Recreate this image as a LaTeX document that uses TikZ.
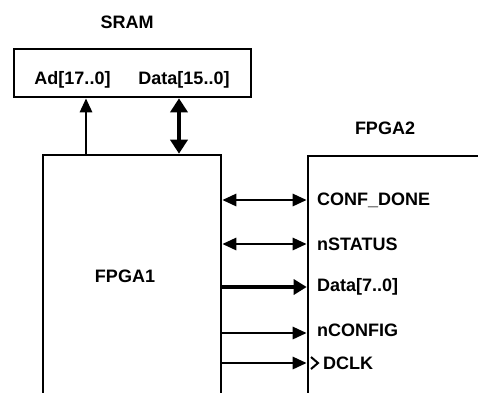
\documentclass[tikz,border=0pt]{standalone}
\usepackage{fontspec}
\setmainfont{Liberation Sans}
\usetikzlibrary{arrows.meta}
\begin{document}
\begin{tikzpicture}[x=1pt,y=-1pt,
  box/.style={draw,line width=2.6pt,rectangle,inner sep=0pt},
  lbl/.style={font=\fontsize{18}{20}\selectfont\bfseries,inner sep=0pt},
  sig/.style={line width=2.8pt},
  sigarrow/.style={sig,-{Triangle[length=14pt,width=12pt]}},
  sigboth/.style={sig,{Triangle[length=14pt,width=12pt]}-{Triangle[length=14pt,width=12pt]}},
  bus/.style={line width=4.8pt,-{Triangle[length=13pt,width=15pt]}},
  busboth/.style={line width=4.8pt,{Triangle[length=14pt,width=17pt]}-{Triangle[length=14pt,width=17pt]}}]
\useasboundingbox (0,0) rectangle (478,392);
\fill[white] (0,0) rectangle (478,392);
% boxes
\node[box,minimum width=237pt,minimum height=48pt] (sram) at (132.5,73) {};
\node[box,minimum width=178pt,minimum height=270pt] (fpga1) at (132,290) {};
\node[box,minimum width=220pt,minimum height=270pt] (fpga2) at (418,291) {};
% titles
\node[lbl] (tsram) at (127,22) {SRAM};
\node[lbl] (tfpga2) at (385,128) {FPGA2};
\node[lbl] (tfpga1) at (125,276) {FPGA1};
\node[lbl] (tad) at (72.5,80) {Ad[17..0]};
\node[lbl] (tdata16) at (184,80) {Data[15..0]};
% SRAM connections
\draw[sigarrow] (fpga1.north -| 86,0) -- (sram.south -| 86,0);
\draw[busboth] (fpga1.north -| 179,0) -- (sram.south -| 179,0);
% FPGA signals
\draw[sigboth] (fpga1.east |- 0,200) -- (fpga2.west |- 0,200);
\draw[sigboth] (fpga1.east |- 0,244) -- (fpga2.west |- 0,244);
\draw[bus] (fpga1.east |- 0,287) -- (fpga2.west |- 0,287);
\draw[sigarrow] (fpga1.east |- 0,333) -- (fpga2.west |- 0,333);
\draw[sigarrow] (fpga1.east |- 0,363) -- (fpga2.west |- 0,363);
% clock mark
\coordinate (ck1) at (311,357);
\coordinate (ck3) at (311,369);
\draw[line width=2pt] (ck1) -- (318,363) -- (ck3);
% signal labels
\node[lbl,anchor=west] (lcd) at (317,200) {CONF\_DONE};
\node[lbl,anchor=west] (lns) at (317,244) {nSTATUS};
\node[lbl,anchor=west] (ld8) at (317,287) {Data[7..0]};
\node[lbl,anchor=west] (lnc) at (317,330) {nCONFIG};
\node[lbl,anchor=west] (ldc) at (323,363) {DCLK};
\end{tikzpicture}
\end{document}
